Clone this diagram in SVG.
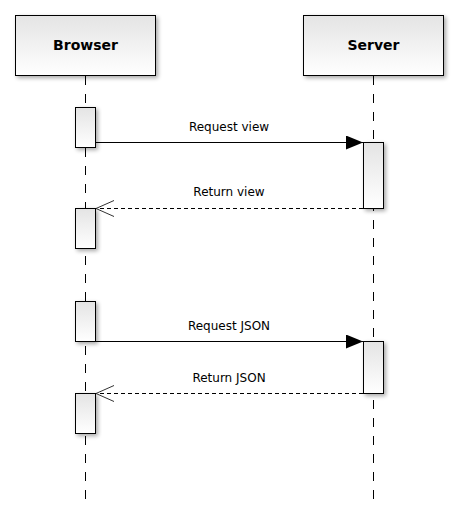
<svg xmlns="http://www.w3.org/2000/svg" width="459" height="531" viewBox="0 0 459 531">
<defs>
<linearGradient id="g" x1="0" y1="0" x2="0" y2="1">
<stop offset="0" stop-color="#e4e4e4"/>
<stop offset="1" stop-color="#ffffff"/>
</linearGradient>
<filter id="sh" x="-30%" y="-30%" width="160%" height="160%">
<feGaussianBlur in="SourceAlpha" stdDeviation="2"/>
<feOffset dx="2" dy="2"/>
<feComponentTransfer><feFuncA type="linear" slope="0.35"/></feComponentTransfer>
<feMerge><feMergeNode/><feMergeNode in="SourceGraphic"/></feMerge>
</filter>
<marker id="filled" markerWidth="17" markerHeight="14" refX="17" refY="7" orient="auto" markerUnits="userSpaceOnUse">
<path d="M0,0 L17,7 L0,14 Z" fill="#000"/>
</marker>
<marker id="open" markerWidth="20" markerHeight="20" refX="18" refY="9" orient="auto" markerUnits="userSpaceOnUse">
<path d="M0,1 L18,9 L0,17" fill="none" stroke="#333" stroke-width="1"/>
</marker>
</defs>
<style>
.box{fill:url(#g);stroke:#000;stroke-width:1;filter:url(#sh)}
.act{fill:url(#g);stroke:#000;stroke-width:1;filter:url(#sh)}
.life{stroke:#000;stroke-width:1;stroke-dasharray:9,9;fill:none}
.title{font-family:"DejaVu Sans",Verdana,sans-serif;font-size:14px;font-weight:bold;text-anchor:middle;fill:#000}
.lbl{font-family:"DejaVu Sans",Verdana,sans-serif;font-size:12px;text-anchor:middle;fill:#000}
.msg{stroke:#000;stroke-width:1;fill:none}
.ret{stroke:#000;stroke-width:1;stroke-dasharray:4,3;fill:none}
</style>
<g id="lifelines">
<line class="life" x1="85.5" y1="76" x2="85.5" y2="505"/>
<line class="life" x1="373.5" y1="76" x2="373.5" y2="505"/>
</g>
<g id="browser">
<rect class="box" x="15.5" y="15.5" width="140" height="60"/>
<text class="title" x="85.5" y="50">Browser</text>
</g>
<g id="server">
<rect class="box" x="303.5" y="15.5" width="140" height="60"/>
<text class="title" x="373.5" y="50">Server</text>
</g>
<g id="activations">
<rect class="act" x="75.5" y="107.5" width="20" height="40"/>
<rect class="act" x="75.5" y="208.5" width="20" height="40"/>
<rect class="act" x="75.5" y="301.5" width="20" height="40"/>
<rect class="act" x="75.5" y="393.5" width="20" height="40"/>
<rect class="act" x="363.5" y="142.5" width="20" height="66"/>
<rect class="act" x="363.5" y="341.5" width="20" height="52"/>
</g>
<g id="connectors">
<line class="msg" x1="95.5" y1="142.5" x2="363" y2="142.5" marker-end="url(#filled)"/>
<text class="lbl" x="229" y="131">Request view</text>
<line class="ret" x1="363" y1="208.5" x2="96" y2="208.5" marker-end="url(#open)"/>
<text class="lbl" x="229" y="196">Return view</text>
<line class="msg" x1="95.5" y1="341.5" x2="363" y2="341.5" marker-end="url(#filled)"/>
<text class="lbl" x="229" y="330">Request JSON</text>
<line class="ret" x1="363" y1="393.5" x2="96" y2="393.5" marker-end="url(#open)"/>
<text class="lbl" x="229" y="382">Return JSON</text>
</g>
</svg>
